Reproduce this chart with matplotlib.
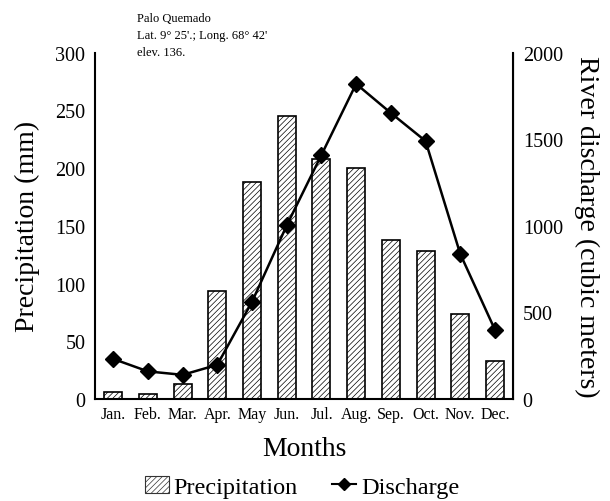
import numpy as np
import matplotlib.pyplot as plt
from matplotlib.patches import Patch
from matplotlib.lines import Line2D

plt.rcParams['font.family'] = ['Liberation Serif', 'DejaVu Serif']
plt.rcParams['hatch.color'] = '#777777'
plt.rcParams['hatch.linewidth'] = 0.5

# --- Data ---
months = ['Jan.', 'Feb.', 'Mar.', 'Apr.', 'May', 'Jun.', 'Jul.', 'Aug.',
          'Sep.', 'Oct.', 'Nov.', 'Dec.']
precipitation = [6, 4.5, 13, 94, 188, 245, 208, 200, 138, 128, 74, 33]
discharge = [232, 160, 140, 198, 562, 1003, 1410, 1820, 1652, 1490, 838, 400]

x = np.arange(len(months))

fig = plt.figure(figsize=(6.1, 5.02), dpi=100)
ax = fig.add_axes([0.156, 0.203, 0.685, 0.690])

# --- Precipitation bars (left axis) ---
ax.bar(x, precipitation, width=0.52, color='white', edgecolor='black',
       linewidth=1.2, hatch='//////', zorder=2)
ax.set_xlim(-0.52, 11.52)
ax.set_ylim(0, 300)
ax.set_yticks([0, 50, 100, 150, 200, 250, 300])
ax.set_xticks(x)
ax.set_xticklabels(months, fontsize=11.5)
ax.tick_params(axis='y', length=0, labelsize=14.5, pad=7)
ax.tick_params(axis='x', length=0, pad=5)
ax.set_ylabel('Precipitation (mm)', fontsize=20, labelpad=11)
ax.set_xlabel('Months', fontsize=20, labelpad=10)
ax.spines['top'].set_visible(False)
for s in ['left', 'bottom']:
    ax.spines[s].set_linewidth(1.5)

# --- Discharge line (right axis) ---
ax2 = ax.twinx()
ax2.plot(x, discharge, color='black', linewidth=1.8, marker='D',
         markersize=8, zorder=3)
ax2.set_ylim(0, 2000)
ax2.set_yticks([0, 500, 1000, 1500, 2000])
ax2.tick_params(axis='y', length=0, labelsize=14.5, pad=7)
ax2.set_ylabel('River discharge (cubic meters)', fontsize=20,
               rotation=270, labelpad=26)
ax2.spines['top'].set_visible(False)
ax2.spines['right'].set_linewidth(1.5)
ax2.spines['left'].set_visible(False)
ax2.spines['bottom'].set_visible(False)

# --- Station note ---
fig.text(0.225, 0.975, 'Palo Quemado\nLat. 9\u00b0 25\'.; Long. 68\u00b0 42\'\nelev. 136.',
         fontsize=9, va='top', ha='left', linespacing=1.6)

# --- Legend ---
handles = [Patch(facecolor='white', edgecolor='#333333', hatch='//////',
                 linewidth=0.8),
           Line2D([0], [0], color='black', linewidth=1.5, marker='D',
                  markersize=6)]
fig.legend(handles, ['Precipitation', 'Discharge'], loc='center',
           bbox_to_anchor=(0.495, 0.028), ncol=2, frameon=False,
           fontsize=17.5, handlelength=1.0, handletextpad=0.2,
           columnspacing=1.4)

plt.savefig('out.png', dpi=100)
